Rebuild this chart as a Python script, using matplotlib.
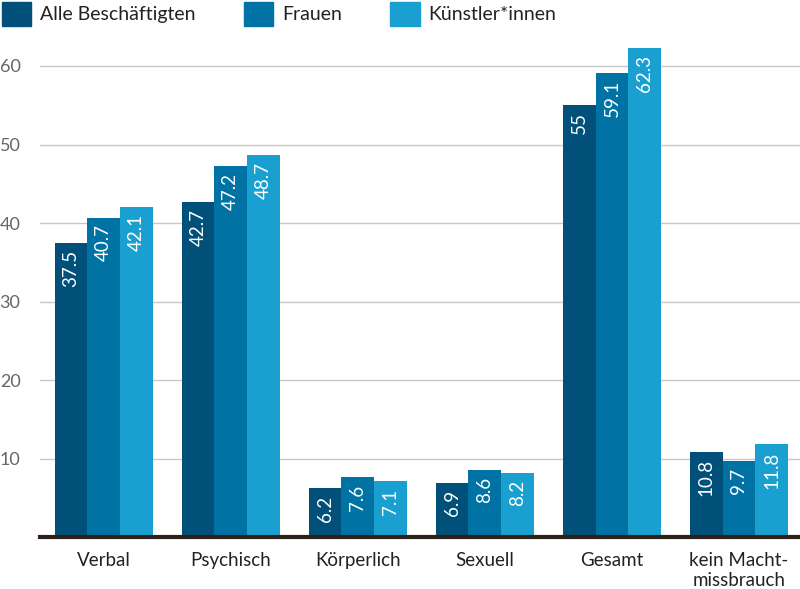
import matplotlib.pyplot as plt
import numpy as np
from matplotlib.patches import Patch

plt.rcParams['font.family'] = ['Lato', 'DejaVu Sans']

categories = ["Verbal", "Psychisch", "Körperlich", "Sexuell", "Gesamt", "kein Macht-\nmissbrauch"]
series_names = ["Alle Beschäftigten", "Frauen", "Künstler*innen"]
alle = [37.5, 42.7, 6.2, 6.9, 55, 10.8]
frauen = [40.7, 47.2, 7.6, 8.6, 59.1, 9.7]
kuenstler = [42.1, 48.7, 7.1, 8.2, 62.3, 11.8]
colors = ["#00507a", "#0072a3", "#1aa0d0"]

fig = plt.figure(figsize=(8, 5.89), dpi=100)
ax = fig.add_axes([0.05, 0.088, 0.95, 0.86])

x = np.arange(len(categories))
w = 0.257
for i, (vals, c) in enumerate(zip([alle, frauen, kuenstler], colors)):
    pos = x + (i - 1) * w
    ax.bar(pos, vals, width=w, color=c, zorder=3)
    for p, v in zip(pos, vals):
        ax.annotate(f"{v:g}", (p, v), xytext=(0, -5), textcoords="offset points",
                    rotation=90, ha="center", va="top", color="white",
                    fontsize=13.5, zorder=4)

ax.set_xlim(-0.5, 5.48)
ax.set_ylim(0, 64.5)
ax.set_yticks([10, 20, 30, 40, 50, 60])
ax.yaxis.grid(True, color="#c8c8c8", lw=1, zorder=0)
ax.tick_params(axis="y", length=0, pad=14, labelsize=13, labelcolor="#666666")
ax.set_xticks(x)
ax.set_xticklabels(categories, fontsize=13.5, color="#222222")
ax.tick_params(axis="x", length=0, pad=11)
for s in ["top", "right", "left"]:
    ax.spines[s].set_visible(False)
ax.spines["bottom"].set_color("#2b211a")
ax.spines["bottom"].set_linewidth(3)
ax.spines["bottom"].set_zorder(5)

handles = [Patch(color=c) for c in colors]
fig.legend(handles, series_names, loc="upper left", bbox_to_anchor=(0, 1),
           ncol=3, frameon=False, fontsize=14, handlelength=1.5, handleheight=1.5,
           handletextpad=0.45, columnspacing=2.5, labelcolor="#222222",
           borderaxespad=0, borderpad=0.1)

fig.savefig("out.png")
